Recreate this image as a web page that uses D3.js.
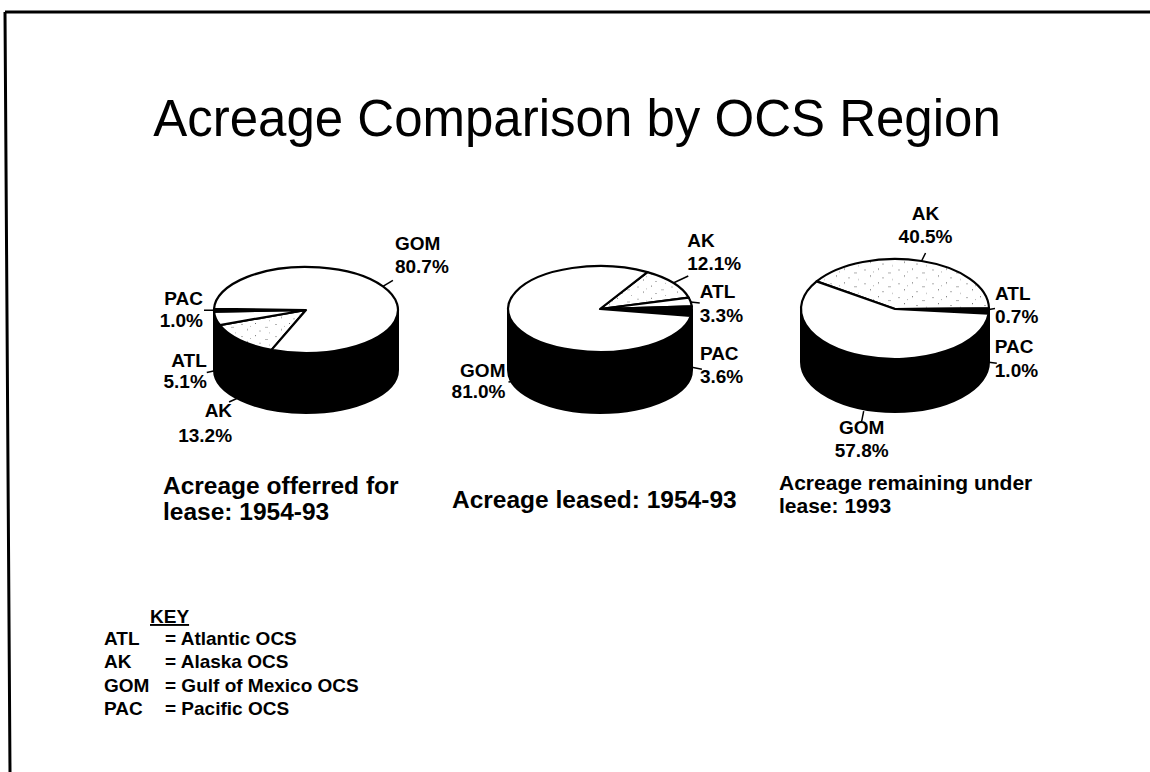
<!DOCTYPE html>
<html>
<head>
<meta charset="utf-8">
<script src="https://cdn.jsdelivr.net/npm/d3@7"></script>
<style>
  body { margin: 0; background: #fff; }
  svg { display: block; font-family: "Liberation Sans", Arial, sans-serif; }
</style>
</head>
<body>
<div id="chart"></div>
<script>
// Daten: Anteile je OCS-Region (Prozent)
let regionen = ["AK", "ATL", "PAC", "GOM"];
let angeboten = [13.2, 5.1, 1.0, 80.7];
let verpachtet = [12.1, 3.3, 3.6, 81.0];
let verbleibend = [40.5, 0.7, 1.0, 57.8];

let titel = "Acreage Comparison by OCS Region";
let unterschriften = [
  ["Acreage offerred for", "lease: 1954-93"],
  ["Acreage leased: 1954-93"],
  ["Acreage remaining under", "lease: 1993"]
];
let keyKuerzel = ["ATL", "AK", "GOM", "PAC"];
let keyNamen = ["Atlantic OCS", "Alaska OCS", "Gulf of Mexico OCS", "Pacific OCS"];

let width = 1150,
  height = 772;

let svg = d3.select("#chart")
  .append("svg")
  .attr("width", width)
  .attr("height", height);

// Punktraster fuer AK (lockere Striche)
let defs = svg.append("defs");
let muster = defs.append("pattern")
  .attr("id", "raster")
  .attr("patternUnits", "userSpaceOnUse")
  .attr("width", 34)
  .attr("height", 26);
muster.append("rect").attr("width", 34).attr("height", 26).attr("fill", "#fff");
[[3, 4, 2, 1], [17, 2, 1, 2], [27, 10, 3, 1], [9, 15, 1, 2], [21, 19, 2, 1], [31, 22, 1, 1], [12, 8, 1, 1]]
  .forEach(function(p) {
    muster.append("rect")
      .attr("x", p[0]).attr("y", p[1])
      .attr("width", p[2]).attr("height", p[3])
      .attr("fill", "#666");
  });

let farbe = d3.scaleOrdinal()
  .domain(regionen)
  .range(["url(#raster)", "#fff", "#000", "#fff"]);

// Rahmen
svg.append("path")
  .attr("d", "M5,12 L1150,12 M5,12 L10,772")
  .attr("fill", "none")
  .attr("stroke", "#000")
  .attr("stroke-width", 3);

svg.append("text")
  .attr("x", 577)
  .attr("y", 136)
  .attr("text-anchor", "middle")
  .style("font-size", "51px")
  .text(titel);

// Lage der drei Torten
let torten = [
  { werte: angeboten, cx: 306, cy: 310, rx: 92, ry: 43, tiefe: 60, start: 202 },
  { werte: verpachtet, cx: 600, cy: 309, rx: 92, ry: 43, tiefe: 61, start: 31 },
  { werte: verbleibend, cx: 895, cy: 309, rx: 94, ry: 50, tiefe: 53, start: 303.5 }
];

// Beschriftungen: seite = Linie zeigt auf Mantel, dx/dy = Fuehrungslinie, anker, tx, b1/b2 Grundlinien
let beschriftung = [
  {
    AK: { seite: 57, dx: -11, dy: 5, anker: "end", tx: 3, b1: 15, b2: 40 },
    ATL: { seite: 52, dx: -9, dy: 2, anker: "end", tx: 0, b1: -5, b2: 16 },
    PAC: { seite: 0, dx: -10, dy: 0, anker: "end", tx: -1, b1: -5, b2: 17 },
    GOM: { seite: 0, dx: 10, dy: -6, anker: "start", tx: 2, b1: -30, b2: -7 }
  },
  {
    AK: { seite: 0, dx: 15, dy: -7, anker: "start", tx: -1, b1: -29, b2: -6 },
    ATL: { seite: 0, dx: 9, dy: 1, anker: "start", tx: 0, b1: -5, b2: 19 },
    PAC: { seite: 56, dx: 10, dy: 2, anker: "start", tx: -2, b1: -9, b2: 14 },
    GOM: { seite: 54, dx: -8, dy: 1, anker: "end", tx: -3, b1: -5, b2: 16 }
  },
  {
    AK: { seite: 0, dx: 4, dy: -8, anker: "middle", tx: 0, b1: -33, b2: -10 },
    ATL: { seite: 0, dx: 6, dy: -1, anker: "start", tx: 0, b1: -8, b2: 15 },
    PAC: { seite: 50, dx: 8, dy: 1, anker: "start", tx: -2, b1: -10, b2: 14 },
    GOM: { seite: 55, dx: -2, dy: 10, anker: "middle", tx: 0, b1: 13, b2: 36 }
  }
];

torten.forEach(function(t, k) {
  let s = t.start * Math.PI / 180;
  let pie = d3.pie()
    .sort(null)
    .startAngle(s)
    .endAngle(s + 2 * Math.PI)
    .value(function(d) {
      return d.menge;
    })(regionen.map(function(r, i) {
      return { label: r, menge: t.werte[i] };
    }));

  let g = svg.append("g");

  // Mantel (schwarz)
  g.append("path")
    .attr("d", "M" + (t.cx + t.rx) + "," + t.cy +
      " L" + (t.cx + t.rx) + "," + (t.cy + t.tiefe) +
      " A" + t.rx + "," + t.ry + " 0 0 1 " + (t.cx - t.rx) + "," + (t.cy + t.tiefe) +
      " L" + (t.cx - t.rx) + "," + t.cy +
      " A" + t.rx + "," + t.ry + " 0 0 0 " + (t.cx + t.rx) + "," + t.cy + " Z")
    .attr("fill", "#000")
    .attr("stroke", "#000")
    .attr("stroke-width", 2);

  let arc = d3.arc()
    .innerRadius(0)
    .outerRadius(t.rx);

  // Deckel, als Kreis gezeichnet und gestaucht
  g.append("g")
    .attr("transform", "translate(" + t.cx + "," + t.cy + ") scale(1," + (t.ry / t.rx) + ")")
    .selectAll("path")
    .data(pie)
    .enter()
    .append("path")
    .attr("d", arc)
    .attr("fill", function(d) {
      return farbe(d.data.label);
    })
    .attr("stroke", "#000")
    .attr("stroke-width", 2.2)
    .attr("stroke-linejoin", "round")
    .attr("vector-effect", "non-scaling-stroke");

  // Fuehrungslinien und Texte
  pie.forEach(function(d) {
    let l = beschriftung[k][d.data.label];
    let m = (d.startAngle + d.endAngle) / 2;
    let px = t.cx + t.rx * Math.sin(m);
    let py = t.cy - t.ry * Math.cos(m) + l.seite;
    let ex = px + l.dx,
      ey = py + l.dy;
    g.append("line")
      .attr("x1", px).attr("y1", py)
      .attr("x2", ex).attr("y2", ey)
      .attr("stroke", "#000")
      .attr("stroke-width", 1.5);
    let txt = g.append("text")
      .attr("text-anchor", l.anker)
      .style("font-size", "19px")
      .style("font-weight", "bold");
    txt.append("tspan")
      .attr("x", ex + l.tx).attr("y", ey + l.b1)
      .text(d.data.label);
    txt.append("tspan")
      .attr("x", ex + l.tx).attr("y", ey + l.b2)
      .text(d.data.menge.toFixed(1) + "%");
  });
});

// Unterschriften unter den Torten: x, y, Schriftgroesse, Zeilenabstand
let unterLage = [[163, 494, 24.5, 26], [452, 508, 24.5, 26], [779, 490, 21, 23]];
unterschriften.forEach(function(zeilen, k) {
  let u = unterLage[k];
  let txt = svg.append("text")
    .style("font-size", u[2] + "px")
    .style("font-weight", "bold");
  zeilen.forEach(function(z, j) {
    txt.append("tspan")
      .attr("x", u[0])
      .attr("y", u[1] + j * u[3])
      .text(z);
  });
});

// Schluessel
svg.append("text")
  .attr("x", 150)
  .attr("y", 623)
  .style("font-size", "19px")
  .style("font-weight", "bold")
  .style("text-decoration", "underline")
  .text("KEY");

keyKuerzel.forEach(function(a, i) {
  let y = 645 + i * 23.3;
  svg.append("text")
    .attr("x", 104).attr("y", y)
    .style("font-size", "19px")
    .style("font-weight", "bold")
    .text(a);
  svg.append("text")
    .attr("x", 165).attr("y", y)
    .style("font-size", "19px")
    .style("font-weight", "bold")
    .text("= " + keyNamen[i]);
});
</script>
</body>
</html>
